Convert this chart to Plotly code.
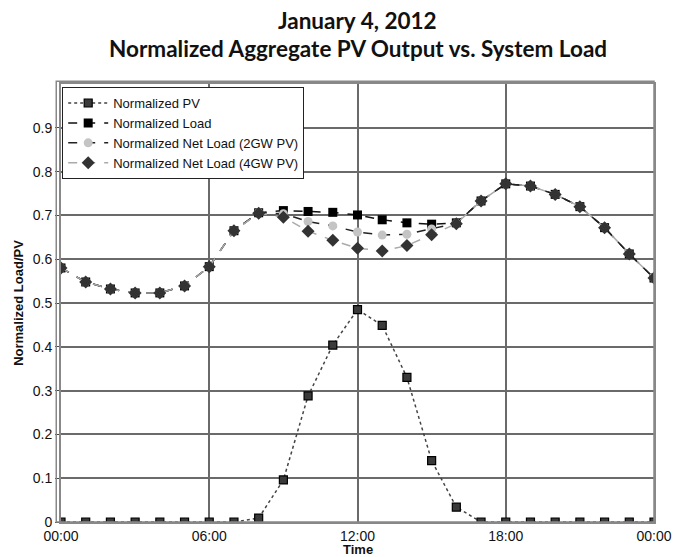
import plotly.graph_objects as go

hours = list(range(25))
tick_vals = [0, 6, 12, 18, 24]
tick_text = ["00:00", "06:00", "12:00", "18:00", "00:00"]
y_ticks = [0, 0.1, 0.2, 0.3, 0.4, 0.5, 0.6, 0.7, 0.8, 0.9]
y_tick_text = ["0", "0.1", "0.2", "0.3", "0.4", "0.5", "0.6", "0.7", "0.8", "0.9"]
title_lines = ["January 4, 2012", "Normalized Aggregate PV Output vs. System Load"]
x_title = "Time"

pv = [0, 0, 0, 0, 0, 0, 0, 0, 0.009, 0.096, 0.288, 0.404, 0.485, 0.449, 0.330,
      0.140, 0.034, 0, 0, 0, 0, 0, 0, 0, 0]
load = [0.580, 0.548, 0.532, 0.523, 0.523, 0.539, 0.583, 0.665, 0.706, 0.711, 0.709,
        0.707, 0.701, 0.690, 0.683, 0.680, 0.683, 0.733, 0.772, 0.767, 0.748, 0.720,
        0.672, 0.612, 0.557]
net2 = [0.580, 0.548, 0.532, 0.523, 0.523, 0.539, 0.583, 0.665, 0.706, 0.704, 0.686,
        0.676, 0.662, 0.655, 0.657, 0.669, 0.682, 0.733, 0.772, 0.767, 0.748, 0.720,
        0.672, 0.612, 0.557]
net4 = [0.580, 0.548, 0.532, 0.523, 0.523, 0.539, 0.583, 0.665, 0.705, 0.696, 0.664,
        0.643, 0.625, 0.619, 0.631, 0.656, 0.681, 0.733, 0.772, 0.767, 0.748, 0.720,
        0.672, 0.612, 0.557]

fig = go.Figure()
fig.add_trace(go.Scatter(
    x=hours, y=pv, name="Normalized PV", mode="lines+markers",
    line=dict(color="#444444", dash="dot", width=1.5),
    marker=dict(symbol="square", size=8, color="#3a3a3a", line=dict(color="#000000", width=1.2))))
fig.add_trace(go.Scatter(
    x=hours, y=load, name="Normalized Load", mode="lines+markers",
    line=dict(color="#111111", dash="dash", width=1.5),
    marker=dict(symbol="square", size=9, color="#000000")))
fig.add_trace(go.Scatter(
    x=hours, y=net2, name="Normalized Net Load (2GW PV)", mode="lines+markers",
    line=dict(color="#222222", dash="dash", width=1.5),
    marker=dict(symbol="circle", size=9, color="#c4c4c4")))
fig.add_trace(go.Scatter(
    x=hours, y=net4, name="Normalized Net Load (4GW PV)", mode="lines+markers",
    line=dict(color="#aaaaaa", dash="dash", width=1.5),
    marker=dict(symbol="diamond", size=10, color="#333333")))

grid = "#6a6a6a"
fig.update_layout(
    width=684, height=557,
    margin=dict(l=61, r=30, t=84, b=35),
    paper_bgcolor="white", plot_bgcolor="white",
    font=dict(family="Liberation Sans, Arial", color="#111111"),
    legend=dict(
        x=0.002, y=0.993, xanchor="left", yanchor="top",
        bgcolor="white", bordercolor="#222222", borderwidth=1,
        font=dict(family="Liberation Sans, Arial", size=13, color="#111111"),
        tracegroupgap=0, itemwidth=40),
    showlegend=True,
)
for txt, ypx in zip(title_lines, [20, 48]):
    fig.add_annotation(text=txt, xref="paper", yref="paper", x=0.5,
                       y=1 + (84 - ypx) / 438, xanchor="center", yanchor="middle",
                       showarrow=False,
                       font=dict(family="Lato", size=22.5, color="#111111", weight="bold"))
fig.add_annotation(text="<b>" + x_title + "</b>", xref="paper", yref="paper", x=0.5,
                   y=-(549 - 522) / 438, xanchor="center", yanchor="middle", showarrow=False,
                   font=dict(family="Liberation Sans, Arial", size=13, color="#111111"))
fig.update_xaxes(
    range=[0, 24], tickvals=tick_vals, ticktext=tick_text, automargin=False,
    showgrid=True, gridcolor=grid, gridwidth=1.5,
    showline=True, linecolor="#888888", linewidth=2, mirror=True,
    ticks="", tickfont=dict(size=14, color="#111111"),
    zeroline=False)
fig.update_yaxes(
    range=[0, 1.0], tickvals=y_ticks, ticktext=y_tick_text, automargin=False,
    showgrid=True, gridcolor=grid, gridwidth=1.5,
    showline=True, linecolor="#888888", linewidth=2, mirror=True,
    ticks="outside", ticklen=4, tickcolor="#444444",
    tickfont=dict(size=14, color="#111111"),
    title=dict(text="<b>Normalized Load/PV</b>", font=dict(size=13, color="#111111"), standoff=6),
    zeroline=False)

fig.add_shape(type="rect", xref="paper", yref="paper", x0=-0.008, x1=1.0, y0=0, y1=1.006,
              line=dict(color="#888888", width=1.5), layer="above")

fig.write_html("out.html")
